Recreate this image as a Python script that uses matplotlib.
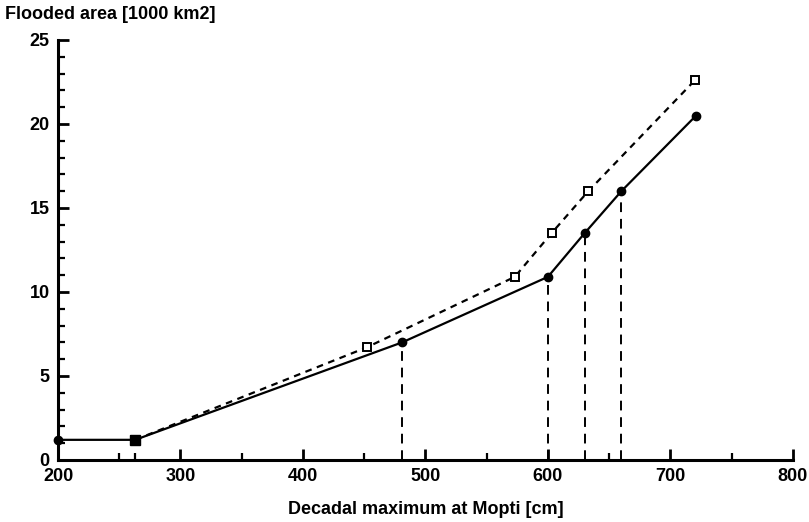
import matplotlib
matplotlib.use("Agg")
import matplotlib.pyplot as plt

# Data
solid_x = [200, 263, 481, 600, 630, 660, 721]
solid_y = [1.2, 1.2, 7.0, 10.9, 13.5, 16.0, 20.5]
dash_x = [263, 452, 573, 603, 633, 720]
dash_y = [1.2, 6.7, 10.9, 13.5, 16.0, 22.6]
drop_x = [481, 600, 630, 660]
drop_y = [7.0, 10.9, 13.5, 16.0]
xticks = [200, 300, 400, 500, 600, 700, 800]
yticks = [0, 5, 10, 15, 20, 25]

plt.rcParams['font.family'] = ['Liberation Sans', 'DejaVu Sans']
fig = plt.figure(figsize=(8.09, 5.22), dpi=100)
ax = fig.add_axes([0.0717, 0.1188, 0.9083, 0.8046])

# vertical drop lines
for xv, yv in zip(drop_x, drop_y):
    ax.plot([xv, xv], [0, yv], color='black', lw=1.4, ls=(0, (5, 3.5)), zorder=2)

ax.plot(dash_x, dash_y, color='black', lw=1.6, ls=(0, (3, 2.5)), marker='s',
        ms=5.5, mfc='white', mec='black', mew=1.4, zorder=3, clip_on=False)
ax.plot(solid_x, solid_y, color='black', lw=1.6, ls='-', marker='o',
        ms=6, mfc='black', mec='black', zorder=4, clip_on=False)
# square overlap at 263 appears filled
ax.plot([263], [1.2], marker='s', ms=6.5, color='black', zorder=5)

ax.set_xlim(200, 800)
ax.set_ylim(0, 25)
ax.set_xticks(xticks)
ax.set_yticks(yticks)
ax.set_xticks([250, 263, 350, 450, 550, 650, 750], minor=True)
ax.set_yticks([v for v in range(0, 26) if v % 5 != 0], minor=True)

for s in ['top', 'right']:
    ax.spines[s].set_visible(False)
for s in ['left', 'bottom']:
    ax.spines[s].set_linewidth(2.2)

ax.tick_params(axis='both', which='major', direction='in', length=8, width=2.0,
               labelsize=13, pad=6)
ax.tick_params(axis='both', which='minor', direction='in', length=5, width=1.6)
for lab in ax.get_xticklabels() + ax.get_yticklabels():
    lab.set_fontweight('bold')

fig.text(0.006, 0.988, 'Flooded area [1000 km2]', fontsize=13, fontweight='bold',
         ha='left', va='top')
ax.set_xlabel('Decadal maximum at Mopti [cm]', fontsize=13, fontweight='bold',
              labelpad=11)

fig.savefig('out.png', dpi=100)
